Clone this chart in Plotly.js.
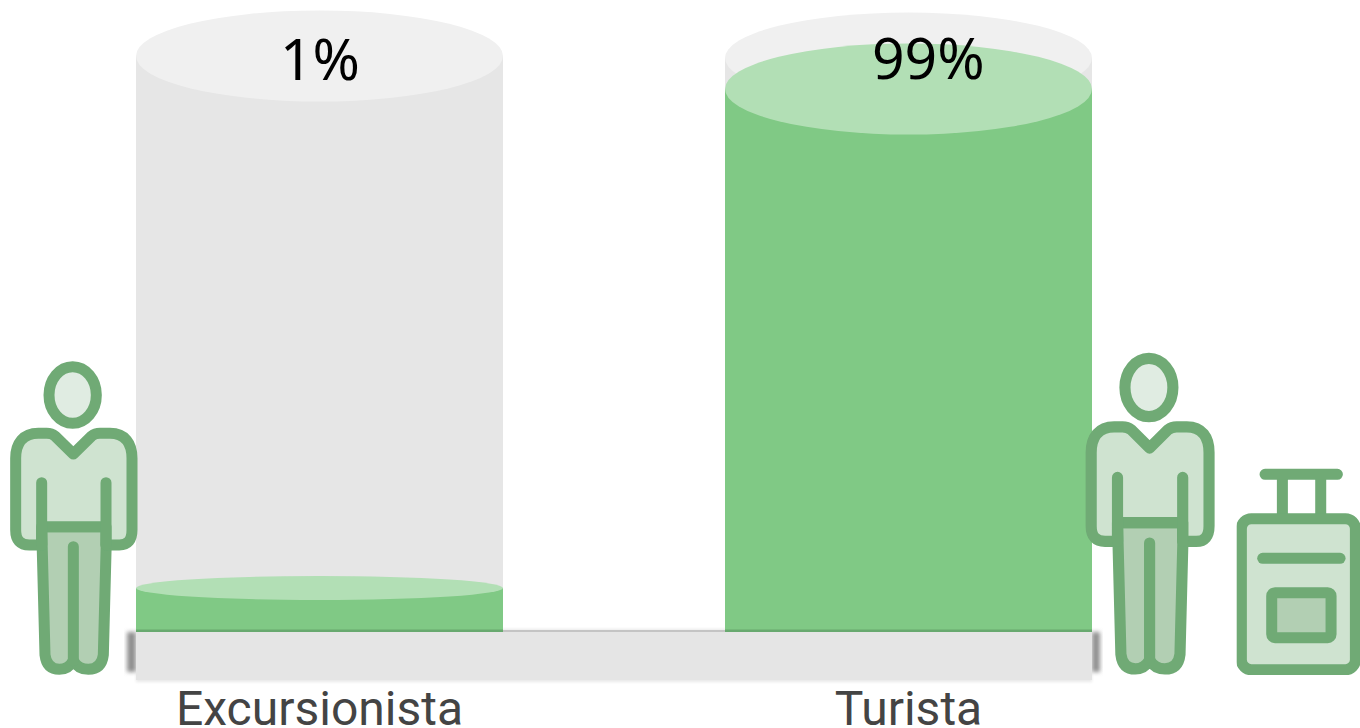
<!DOCTYPE html>
<html>
<head>
<meta charset="utf-8">
<script src="https://cdn.plot.ly/plotly-3.0.1.min.js"></script>
<style>html,body{margin:0;padding:0;background:#fff;overflow:hidden}#chart{width:1360px;height:728px}</style>
</head>
<body>
<div id="chart"></div>
<script>
// ---- data ----
var categories = ['Excursionista', 'Turista'];
var positions = [0, 1];
var shareLabels = ['1%', '99%'];
var fillLevels = [7.64, 94.27];    // drawn height of the green column (scale: full track = 100)
var trackLevels = [100, 99.65];    // drawn height of the grey cylinder
var labelX = [0.001, 1.034];
var labelY = [99.7, 99.9];

// ---- layout constants ----
var W = 1360, H = 728, plotH = 632;
var barWidth = 367 / 589;
var xRange = [-319.5 / 589, (W - 319.5) / 589];
var yRange = [0, plotH / 5.76];
var COL = {fill: '#80c985', fillTop: '#b2dfb5', track: '#e6e6e6', trackTop: '#f0f0f0', edge: '#68a96f',
           icon: '#6faa75', light: '#cfe3d0', mid: '#b2cfb3', head: '#e0ece2', text: '#444444'};

function ellipse(i, level, ryPx, color) {
  var ry = ryPx / 5.76;
  return {type: 'circle', xref: 'x', yref: 'y', layer: 'above',
    x0: positions[i] - barWidth / 2, x1: positions[i] + barWidth / 2,
    y0: level - ry, y1: level + ry, fillcolor: color, line: {width: 0}};
}
function baseEdge(i) {
  return {type: 'rect', xref: 'x', yref: 'y', layer: 'above',
    x0: positions[i] - barWidth / 2, x1: positions[i] + barWidth / 2,
    y0: 0, y1: 2.6 / 5.76, fillcolor: COL.edge, line: {width: 0}};
}

// ---- decorative pictures as inline SVG ----
function uri(svg) { return 'data:image/svg+xml;charset=utf-8,' + encodeURIComponent(svg); }
function place(svg, x, y, w, h, layer) {
  return {source: uri(svg), xref: 'paper', yref: 'paper', x: x / W, y: (plotH - y) / plotH,
    sizex: w / W, sizey: h / plotH, xanchor: 'left', yanchor: 'top', sizing: 'stretch', layer: layer || 'above'};
}
var soft = '<defs><filter id="b" x="-5%" y="-5%" width="110%" height="110%"><feGaussianBlur stdDeviation="1.8"/></filter></defs>';
var personSvg = '<svg xmlns="http://www.w3.org/2000/svg" width="440" height="1000" viewBox="0 0 440 1000">' + soft +
  '<g filter="url(#b)" stroke="' + COL.icon + '" stroke-width="33" stroke-linejoin="round" stroke-linecap="round">' +
  '<path d="M125 530 L135 915 Q140 958 178 958 Q205 958 220 932 Q235 958 265 958 Q305 958 310 915 L320 530 Z" fill="' + COL.mid + '"/>' +
  '<path d="M220 312 L165 258 Q155 250 140 250 L115 250 C70 250 47 280 47 325 L47 540 Q47 585 88 585 L125 585 L125 530 L318 530 L318 585 L358 585 Q396 585 396 540 L396 325 C396 280 375 250 330 250 L300 250 Q285 250 275 258 Z" fill="' + COL.light + '"/>' +
  '<ellipse cx="218" cy="135" rx="71" ry="85" fill="' + COL.head + '"/>' +
  '<path fill="none" d="M125 398 L125 585 M318 398 L318 585 M220 590 L220 932"/>' +
  '</g></svg>';
// suitcase drawn in the units of the crop, origin at the left edge of its box
var suitcaseSvg = '<svg xmlns="http://www.w3.org/2000/svg" width="380" height="630" viewBox="0 0 380 630">' + soft +
  '<g filter="url(#b)" stroke="' + COL.icon + '" stroke-width="33" stroke-linejoin="round" stroke-linecap="round">' +
  '<path fill="none" d="M85 28 L302 28 M137 28 L137 161 M252 28 L252 161"/>' +
  '<rect x="14" y="161" width="342" height="453" rx="30" ry="30" fill="' + COL.light + '"/>' +
  '<path fill="none" d="M78 280 L310 280"/>' +
  '<rect x="105" y="383" width="178" height="135" rx="10" ry="10" fill="' + COL.mid + '"/>' +
  '</g></svg>';
var platformSvg = '<svg xmlns="http://www.w3.org/2000/svg" width="1000" height="70" viewBox="0 0 1000 70">' +
  '<defs><filter id="s" x="-30%" y="-30%" width="160%" height="160%"><feGaussianBlur stdDeviation="2"/></filter>' +
  '<filter id="w" x="-2%" y="-30%" width="104%" height="160%"><feGaussianBlur stdDeviation="1.5"/></filter></defs>' +
  '<rect x="22" y="8" width="956" height="53" fill="#e8e8e8" filter="url(#w)"/>' +
  '<rect x="13" y="11" width="9" height="40" fill="#909090" filter="url(#s)"/>' +
  '<rect x="978" y="11" width="8" height="40" fill="#909090" filter="url(#s)"/>' +
  '<rect x="22" y="9" width="956" height="2" fill="#c4c4c4"/>' +
  '<rect x="22" y="11" width="956" height="48" fill="#e5e5e5"/>' +
  '</svg>';

var shapes = [];
positions.forEach(function (p, i) {
  shapes.push(ellipse(i, trackLevels[i], 45.5, COL.trackTop));
  shapes.push(baseEdge(i));
});
shapes.push(ellipse(0, fillLevels[0], 12, COL.fillTop));
shapes.push(ellipse(1, fillLevels[1], 45.5, COL.fillTop));

var traces = [
  {type: 'bar', x: positions, y: trackLevels, width: barWidth, marker: {color: COL.track, line: {width: 0}}, hoverinfo: 'skip'},
  {type: 'bar', x: positions, y: fillLevels, width: barWidth, marker: {color: COL.fill, line: {width: 0}}, hoverinfo: 'skip'}
];

var annotations = shareLabels.map(function (t, i) {
  return {xref: 'x', yref: 'y', x: labelX[i], y: labelY[i], text: t, showarrow: false, xanchor: 'center', yanchor: 'middle',
    font: {family: '"Noto Sans", "Open Sans", sans-serif', size: 57, color: '#000000'}};
});

var layout = {
  width: W, height: H, showlegend: false, barmode: 'overlay', bargap: 0,
  margin: {l: 0, r: 0, t: 0, b: H - plotH, pad: 0},
  paper_bgcolor: '#ffffff', plot_bgcolor: 'rgba(0,0,0,0)',
  xaxis: {range: xRange, tickmode: 'array', tickvals: positions, ticktext: categories, showgrid: false, zeroline: false,
          showline: false, ticks: '', ticklabelstandoff: 44, tickangle: 0, fixedrange: true,
          tickfont: {family: 'Roboto, sans-serif', size: 48, color: COL.text}},
  yaxis: {range: yRange, visible: false, fixedrange: true},
  shapes: shapes,
  annotations: annotations,
  images: [
    place(platformSvg, 114, 621, 1000, 70, 'below'),
    place(personSvg, 0, 350, 146.67, 333.3),
    place(personSvg, 1075.3, 341.3, 148.6, 342),
    place(suitcaseSvg, 1236.7, 465, 126.7, 210)
  ]
};
Plotly.newPlot('chart', traces, layout, {displayModeBar: false, staticPlot: true});
</script>
</body>
</html>
